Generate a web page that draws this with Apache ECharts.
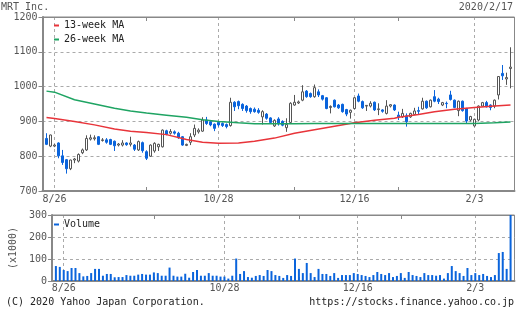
<!DOCTYPE html>
<html><head><meta charset="utf-8">
<script src="https://cdn.jsdelivr.net/npm/echarts@6/dist/echarts.min.js"></script>
<style>html,body{margin:0;padding:0;background:#fff}#c{width:520px;height:314px}</style>
</head><body><div id="c"></div>
<script>
// ---- data ----
const dates = ['8/22','8/23','8/26','8/27','8/28','8/29','8/30',
 '9/2','9/3','9/4','9/5','9/6','9/9','9/10','9/11','9/12','9/13','9/17','9/18','9/19','9/20','9/24','9/25','9/26','9/27','9/30',
 '10/1','10/2','10/3','10/4','10/7','10/8','10/9','10/10','10/11','10/15','10/16','10/17','10/18','10/21','10/23','10/24','10/25','10/28','10/29','10/30','10/31',
 '11/1','11/5','11/6','11/7','11/8','11/11','11/12','11/13','11/14','11/15','11/18','11/19','11/20','11/21','11/22','11/25','11/26','11/27','11/28','11/29',
 '12/2','12/3','12/4','12/5','12/6','12/9','12/10','12/11','12/12','12/13','12/16','12/17','12/18','12/19','12/20','12/23','12/24','12/25','12/26','12/27','12/30',
 '1/6','1/7','1/8','1/9','1/10','1/14','1/15','1/16','1/17','1/20','1/21','1/22','1/23','1/24','1/27','1/28','1/29','1/30','1/31',
 '2/3','2/4','2/5','2/6','2/7','2/10','2/12','2/13','2/14','2/17'];
const open  = [851,829,829,838,801,790,764,789,786,810,818,849,850,856,845,847,848,843,832,832,838,834,832,818,839,813,
 800,815,827,827,873,866,870,866,856,831,840,861,870,872,904,899,892,897,894,891,888,955,957,949,944,937,935,932,913,921,910,887,907,900,882,
 897,947,953,961,987,980,971,985,974,968,940,961,947,949,934,926,937,973,957,944,944,955,934,933,923,944,947,
 918,913,916,913,920,931,936,958,942,971,964,947,952,976,961,931,958,937,904,887,904,944,954,947,944,976,1038,1022,1052];
const high  = [866,862,835,840,818,792,790,795,808,822,860,862,860,858,852,852,850,845,838,846,840,856,835,845,842,817,
 834,840,836,877,876,878,874,870,858,836,866,891,880,912,913,902,894,900,897,894,968,958,960,952,947,940,940,938,932,924,912,906,912,903,909,
 955,976,960,1004,990,983,1006,992,976,970,946,963,950,951,936,934,970,980,960,947,958,957,952,935,961,950,949,
 928,936,923,925,939,942,968,960,963,990,968,956,957,988,963,960,960,939,916,908,946,956,959,949,963,1030,1062,1040,1113];
const low   = [832,826,826,794,775,750,760,780,782,806,815,845,845,832,842,836,832,815,828,828,830,828,815,815,810,789,
 798,810,815,825,860,862,862,850,830,829,832,855,865,870,890,886,872,885,884,880,885,930,935,930,925,922,925,922,891,905,893,884,888,886,870,
 895,945,950,958,968,968,968,970,960,935,923,940,936,925,915,908,935,955,936,930,940,930,918,925,920,940,930,
 904,910,885,910,918,921,934,936,940,955,950,944,938,960,938,915,928,894,900,885,900,942,940,932,938,963,1019,1005,995];
const close = [834,861,832,801,782,764,789,792,805,818,851,853,853,834,847,840,834,830,835,838,833,838,820,842,816,794,
 832,837,834,875,863,871,866,853,832,834,856,880,875,904,894,890,880,890,888,885,955,942,945,937,931,928,928,926,928,909,897,903,893,889,891,
 952,955,956,985,971,971,997,976,964,937,943,942,939,928,921,932,968,958,939,946,952,933,936,929,944,948,933,
 913,923,899,923,930,929,958,939,961,958,957,954,951,963,940,958,931,901,914,906,944,954,942,940,961,1029,1031,1026,1056];
const volume = [68,64,50,45,59,59,36,21,23,36,55,55,24,32,32,17,18,18,27,24,24,29,32,29,29,39,
 36,24,24,61,24,20,20,33,15,41,50,24,24,36,24,24,20,20,11,24,102,32,45,18,15,23,27,23,50,45,27,23,14,27,23,
 102,55,36,82,36,18,55,32,32,23,36,14,27,27,27,36,32,27,23,18,27,41,32,27,36,18,23,
 36,14,41,27,23,18,36,27,27,24,27,11,36,68,45,36,23,59,27,36,27,32,23,18,27,127,132,55,300];
const weekStarts = ['8/22','8/26','9/2','9/9','9/17','9/24','9/30','10/7','10/15','10/21','10/28','11/5','11/11','11/18',
 '11/25','12/2','12/9','12/16','12/23','12/30','1/6','1/14','1/20','1/27','2/3','2/10','2/17'];
const ma13 = [911,908,900,890,878,872,868,862,848,840,837,838,843,852,866,876,886,896,903,909,912,920,928,935,940,944,947];
const ma26 = [987,984,962,950,938,930,924,918,912,905,900,896,893,893,893,894,894,894,894,894,894,894,894,894,894,896,898];
const xLabels = ['8/26','10/28','12/16','2/3'];
const xTicks = ['9/30','11/25','1/6'];

// ---- chart ----
const FONT = 'DejaVu Sans Mono';
const GRAY = '#555';
const AX = '#888';
const BLUE = '#0a64dc';
const RED = '#e8343a';
const GREEN = '#1fa463';
const cats = ['8/21'].concat(dates, ['2/18']);
const labelSet = new Set(xLabels);
const tickSet = new Set(xTicks);
const empty4 = ['-','-','-','-'];
const candle = [empty4].concat(dates.map((d,i)=>[open[i],close[i],low[i],high[i]]), [empty4]);
const vol = ['-'].concat(volume, ['-']);

function xAx(grid, pos, showLabel, margin){
  return {
    type:'category', gridIndex:grid, position:pos, data:cats, boundaryGap:false,
    axisLine:{show:true, lineStyle:{color:AX, width: pos==='bottom'?2:1}},
    axisTick:{show:true, inside:true, length:4, interval:(i,v)=>tickSet.has(v), lineStyle:{color:AX}},
    axisLabel:{show:showLabel, interval:(i,v)=>labelSet.has(v), margin:margin, color:GRAY, fontFamily:FONT, fontSize:10},
    splitLine:{show:pos==='bottom', interval:(i,v)=>labelSet.has(v), lineStyle:{color:'#aaa', type:[3,3]}}
  };
}
function yAx(grid, min, max, extra){
  return Object.assign({
    type:'value', gridIndex:grid, min:min, max:max, interval:100,
    axisLine:{show:true, lineStyle:{color:AX, width:2}},
    axisTick:{show:true, length:4, lineStyle:{color:AX}},
    axisLabel:{margin:5, color:GRAY, fontFamily:FONT, fontSize:10, formatter:(v)=>String(v)},
    splitLine:{show:true, lineStyle:{color:'#aaa', type:[3,3]}}
  }, extra||{});
}
const tstyle = (c)=>({fontFamily:FONT, fontSize:10, fontWeight:'normal', color:c});
const chart = echarts.init(document.getElementById('c'), null, {renderer:'canvas'});
chart.setOption({
  animation:false,
  backgroundColor:'#fff',
  title:[
    {text:'MRT Inc.', left:1, top:2, padding:0, textStyle:tstyle(GRAY)},
    {text:'2020/2/17', right:7, top:2, padding:0, textStyle:tstyle(GRAY)},
    {text:'(C) 2020 Yahoo Japan Corporation.', left:6, top:297, padding:0, textStyle:tstyle('#222')},
    {text:'https://stocks.finance.yahoo.co.jp', right:6, top:297, padding:0, textStyle:tstyle('#222')}
  ],
  legend:[
    {data:['13-week MA','26-week MA'], orient:'vertical', left:54, top:20, padding:0, icon:'rect', itemWidth:5, itemHeight:2, itemGap:3,
     textStyle:{fontFamily:FONT, fontSize:10, color:'#222', lineHeight:11}},
    {data:['Volume'], left:54, top:219, padding:0, icon:'rect', itemWidth:5, itemHeight:2,
     textStyle:{fontFamily:FONT, fontSize:10, color:'#222', lineHeight:11}}
  ],
  grid:[
    {left:42.5, top:17, width:472, height:174, show:true, borderColor:AX, borderWidth:1, backgroundColor:'#fff'},
    {left:42.5, top:215, width:472, height:66, show:true, borderColor:AX, borderWidth:1, backgroundColor:'#fff'}
  ],
  xAxis:[xAx(0,'bottom',true,3), xAx(0,'top',false,0), xAx(1,'bottom',true,2), xAx(1,'top',false,0)],
  yAxis:[
    yAx(0,700,1200),
    yAx(1,0,300,{name:'(x1000)', nameLocation:'middle', nameRotate:90, nameGap:27,
      nameTextStyle:{fontFamily:FONT, fontSize:10, color:GRAY}})
  ],
  series:[
    {name:'13-week MA', type:'line', xAxisIndex:0, yAxisIndex:0, symbol:'none', color:RED,
     lineStyle:{color:RED, width:1.5}, data:weekStarts.map((d,i)=>[d, ma13[i]])},
    {name:'26-week MA', type:'line', xAxisIndex:0, yAxisIndex:0, symbol:'none', color:GREEN,
     lineStyle:{color:GREEN, width:1.5}, data:weekStarts.map((d,i)=>[d, ma26[i]])},
    {name:'Price', type:'candlestick', xAxisIndex:0, yAxisIndex:0, barWidth:3,
     itemStyle:{color:'#fff', color0:BLUE, borderColor:'#555', borderColor0:BLUE, borderWidth:1}, data:candle},
    {name:'Volume', type:'bar', xAxisIndex:2, yAxisIndex:1, barWidth:2, color:BLUE, itemStyle:{color:BLUE}, data:vol}
  ]
});
</script></body></html>
